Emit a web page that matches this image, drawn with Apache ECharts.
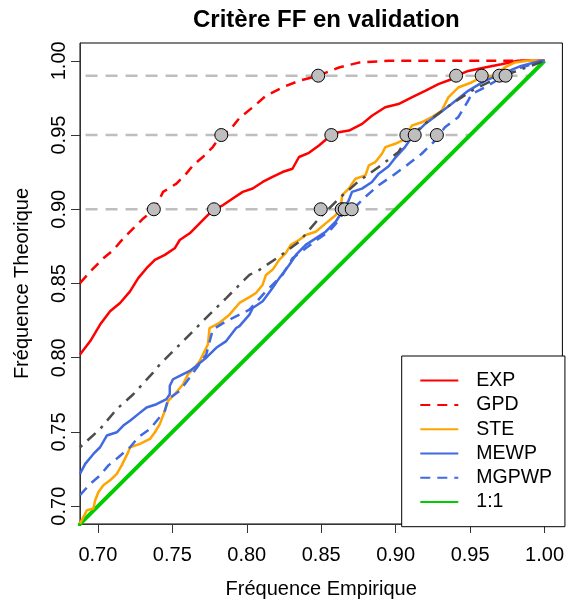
<!DOCTYPE html>
<html><head><meta charset="utf-8">
<script src="https://cdn.jsdelivr.net/npm/echarts@6/dist/echarts.min.js"></script>
<style>html,body{margin:0;padding:0;background:#fff}#c{width:567px;height:604px}</style>
</head><body><div id="c"></div>
<script>
var tickValues = [0.70, 0.75, 0.80, 0.85, 0.90, 0.95, 1.00];
var levels = [0.90, 0.95, 0.99];
var seriesNames = ['EXP', 'GPD', 'STE', 'MEWP', 'MGPWP', '1:1'];
var EXP = [[0.688,0.8022],[0.6949,0.8112],[0.7015,0.8223],[0.7082,0.8313],[0.7149,0.8369],[0.7216,0.8447],[0.7271,0.8536],[0.7327,0.8603],[0.7383,0.8659],[0.745,0.8693],[0.7516,0.8737],[0.755,0.8793],[0.7617,0.8838],[0.7672,0.8893],[0.7728,0.895],[0.778,0.90],[0.7839,0.9027],[0.7906,0.9072],[0.7973,0.9117],[0.804,0.914],[0.8107,0.9184],[0.8173,0.9218],[0.824,0.9251],[0.8307,0.9273],[0.8351,0.9352],[0.8418,0.938],[0.8485,0.943],[0.8568,0.95],[0.8618,0.9519],[0.8687,0.953],[0.8775,0.9575],[0.8841,0.963],[0.893,0.9687],[0.9019,0.9709],[0.9108,0.9754],[0.9198,0.9798],[0.9287,0.9843],[0.9375,0.9876],[0.941,0.99],[0.9488,0.9932],[0.9599,0.9955],[0.971,0.9977],[0.9821,1.0],[1.0,1.0]];
var GPD = [[0.688,0.8503],[0.6949,0.8581],[0.7037,0.867],[0.7104,0.8726],[0.7171,0.8804],[0.7238,0.8871],[0.7305,0.8938],[0.738,0.90],[0.7438,0.9117],[0.7528,0.9173],[0.7594,0.924],[0.7639,0.9296],[0.7705,0.9352],[0.7772,0.9419],[0.7828,0.95],[0.7884,0.953],[0.7951,0.9615],[0.804,0.9687],[0.8129,0.9765],[0.824,0.9821],[0.8351,0.9865],[0.848,0.99],[0.862,0.9955],[0.8753,0.9988],[0.8953,1.0],[1.0,1.0]];
var STE = [[0.688,0.6883],[0.6927,0.6973],[0.697,0.6984],[0.6982,0.704],[0.7004,0.7096],[0.7037,0.7141],[0.7082,0.7174],[0.7127,0.7218],[0.716,0.7275],[0.7204,0.7364],[0.7216,0.7397],[0.7283,0.742],[0.735,0.7453],[0.7383,0.7498],[0.7416,0.7553],[0.745,0.7643],[0.7472,0.771],[0.7516,0.7754],[0.7572,0.7821],[0.7605,0.7888],[0.765,0.7933],[0.7684,0.7978],[0.7739,0.8089],[0.775,0.82],[0.7817,0.8235],[0.7884,0.829],[0.7951,0.8369],[0.8018,0.8408],[0.8062,0.8436],[0.8107,0.8492],[0.8129,0.8558],[0.8173,0.8592],[0.8218,0.8659],[0.8262,0.8704],[0.8296,0.876],[0.8351,0.8793],[0.8396,0.8827],[0.8463,0.8849],[0.853,0.8905],[0.8597,0.896],[0.863,0.9005],[0.8641,0.9095],[0.8685,0.9139],[0.873,0.9206],[0.8797,0.9228],[0.882,0.9296],[0.8864,0.9318],[0.8908,0.9374],[0.8931,0.9419],[0.8997,0.9441],[0.9042,0.9463],[0.9064,0.9474],[0.9108,0.9563],[0.9175,0.9586],[0.9242,0.962],[0.9309,0.9664],[0.9354,0.9754],[0.942,0.982],[0.9509,0.9854],[0.9576,0.9888],[0.9665,0.99],[0.9732,0.9955],[0.9799,0.9988],[0.9888,1.0],[1.0,1.0]];
var MEWP = [[0.688,0.7218],[0.6915,0.7285],[0.697,0.7352],[0.7015,0.7397],[0.706,0.7476],[0.7127,0.7498],[0.7171,0.7543],[0.7216,0.7576],[0.7271,0.762],[0.7327,0.7665],[0.7394,0.7687],[0.7461,0.7721],[0.7483,0.7754],[0.7483,0.7811],[0.7505,0.7855],[0.755,0.7878],[0.7617,0.7911],[0.7661,0.7945],[0.7728,0.80],[0.7795,0.8067],[0.7862,0.8112],[0.7929,0.82],[0.7951,0.8213],[0.8018,0.829],[0.804,0.8335],[0.8107,0.838],[0.8173,0.8469],[0.8218,0.8536],[0.8285,0.8625],[0.833,0.8692],[0.8396,0.876],[0.8463,0.8804],[0.853,0.8849],[0.8597,0.8916],[0.8641,0.8983],[0.8685,0.906],[0.8707,0.9117],[0.8774,0.9139],[0.8841,0.9184],[0.8886,0.924],[0.8953,0.929],[0.90,0.935],[0.9064,0.942],[0.9108,0.9485],[0.9198,0.9575],[0.9287,0.9642],[0.9375,0.9709],[0.9487,0.9798],[0.9599,0.9865],[0.9732,0.9921],[0.9843,0.9966],[0.9977,1.0],[1.0,1.0]];
var MGPWP = [[0.688,0.7074],[0.6949,0.7151],[0.7015,0.7208],[0.7071,0.7275],[0.7138,0.733],[0.7216,0.7397],[0.7271,0.7464],[0.735,0.752],[0.7405,0.7587],[0.745,0.7643],[0.7472,0.7721],[0.755,0.7777],[0.7617,0.7866],[0.7728,0.8022],[0.7772,0.819],[0.7862,0.8246],[0.7951,0.829],[0.8018,0.8324],[0.8129,0.8447],[0.824,0.8558],[0.8307,0.867],[0.8396,0.8737],[0.8485,0.8804],[0.8552,0.8849],[0.8619,0.8927],[0.8663,0.90],[0.8708,0.90],[0.8752,0.9039],[0.8797,0.9084],[0.8886,0.9162],[0.8975,0.9223],[0.9075,0.9296],[0.9175,0.9374],[0.9265,0.9463],[0.9331,0.9552],[0.942,0.962],[0.9487,0.9731],[0.951,0.9776],[0.9599,0.982],[0.9711,0.9888],[0.9843,0.9955],[1.0,1.0]];
var ONE = [[0.6,0.6],[1.0,1.0]];
var DASHDOT = [[0.688,0.7397],[0.7015,0.752],[0.7127,0.7654],[0.7238,0.7754],[0.7371,0.79],[0.7416,0.7955],[0.755,0.8089],[0.7705,0.8246],[0.7862,0.8402],[0.8018,0.8558],[0.8085,0.8592],[0.8218,0.8681],[0.8352,0.8782],[0.8485,0.8938],[0.8619,0.9072],[0.8753,0.919],[0.8886,0.9285],[0.9019,0.9385],[0.9065,0.946],[0.9221,0.9597],[0.9375,0.9709],[0.951,0.9798],[0.9688,0.9888],[0.9845,0.9943],[1.0,1.0]];
var crossings = [[0.7376,0.90],[0.778,0.90],[0.8497,0.90],[0.8638,0.90],[0.8658,0.90],[0.8705,0.90],[0.7829,0.95],[0.8568,0.95],[0.9072,0.95],[0.9128,0.95],[0.9277,0.95],[0.848,0.99],[0.9406,0.99],[0.9578,0.99],[0.9696,0.99],[0.9738,0.99]];

var FONT = 'Liberation Sans, Arial, sans-serif';
var XMIN = 0.688, XMAX = 1.012;
var chart = echarts.init(document.getElementById('c'), null, {renderer: 'canvas'});

var series = [];
levels.forEach(function (lv) {
  series.push({type: 'line', data: [[XMIN - 0.05, lv], [lv, lv]], symbol: 'none', silent: true,
    lineStyle: {color: '#BEBEBE', width: 2.5, type: [12, 8]}, z: 1});
});
function ln(name, data, color, width, type, z) {
  return {name: name, type: 'line', data: data, symbol: 'none', clip: true,
    lineStyle: {color: color, width: width, type: type}, itemStyle: {color: color}, z: z || 2};
}
series.push(ln('1:1', ONE, '#00CD00', 4, 'solid'));
series.push(ln('EXP', EXP, '#FF0000', 2.5, 'solid'));
series.push(ln('GPD', GPD, '#FF0000', 2.5, [10, 7]));
series.push(ln('STE', STE, '#FFA500', 2.5, 'solid'));
series.push(ln('MEWP', MEWP, '#4169E1', 2.5, 'solid'));
series.push(ln('MGPWP', MGPWP, '#4169E1', 2.5, [10, 7]));
series.push(ln('', DASHDOT, '#4D4D4D', 2.5, [3, 7, 11, 7]));
series.push({type: 'scatter', data: crossings, symbol: 'circle', symbolSize: 13, z: 5,
  itemStyle: {color: '#BEBEBE', borderColor: '#000', borderWidth: 1, opacity: 1}});

var axisCommon = {
  type: 'value', min: XMIN, max: XMAX,
  splitLine: {show: false},
  axisLine: {show: true, onZero: false, lineStyle: {color: '#333', width: 1}},
  axisTick: {show: true, inside: false, length: 9, customValues: tickValues, lineStyle: {color: '#333', width: 1}},
  axisLabel: {customValues: tickValues, color: '#000', fontSize: 20, fontFamily: FONT,
    formatter: function (v) { return v.toFixed(2); }},
  nameLocation: 'middle',
  nameTextStyle: {color: '#000', fontSize: 20, fontFamily: FONT}
};

chart.setOption({
  animation: false,
  backgroundColor: '#fff',
  title: {text: 'Critère FF en validation', left: 188, top: 3,
    textStyle: {fontSize: 24, fontWeight: 'bold', fontFamily: FONT, color: '#000'}},
  grid: {left: 80, right: 3, top: 43, bottom: 77, show: true, borderColor: '#000', borderWidth: 1, backgroundColor: 'transparent'},
  xAxis: Object.assign({}, axisCommon, {
    name: 'Fréquence Empirique', nameGap: 55,
    axisLabel: Object.assign({}, axisCommon.axisLabel, {margin: 21})
  }),
  yAxis: Object.assign({}, axisCommon, {
    name: 'Fréquence Theorique', nameGap: 48,
    axisLabel: Object.assign({}, axisCommon.axisLabel, {margin: 11, rotate: 90})
  }),
  legend: {
    data: seriesNames, orient: 'vertical', left: 401.7, top: 356,
    backgroundColor: '#fff', borderColor: '#000', borderWidth: 1, borderRadius: 0,
    padding: [14.6, 12.8, 14.6, 17.6], itemGap: 4.3, itemWidth: 38, itemHeight: 14,
    selectedMode: false,
    itemStyle: {opacity: 0},
    textStyle: {fontSize: 19.5, fontFamily: FONT, color: '#000', lineHeight: 20, padding: [0, 0, 0, 13]},
    z: 10
  },
  series: series
});
</script></body></html>
